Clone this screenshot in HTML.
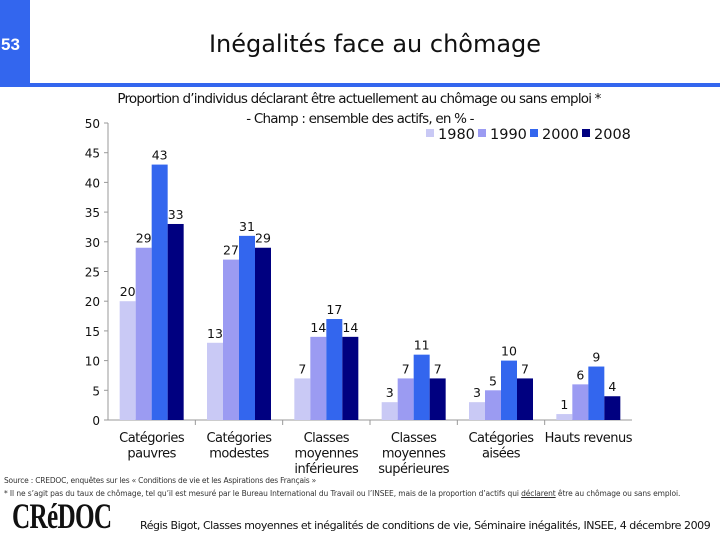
<!DOCTYPE html>
<html><head><meta charset="utf-8"><style>
body{margin:0;width:720px;height:540px;overflow:hidden;background:#fff;font-family:"DejaVu Sans","Liberation Sans",sans-serif;position:relative}
.a{position:absolute;white-space:nowrap}
</style></head><body>
<div class="a" style="left:0;top:0;width:30px;height:86px;background:#3366ee"></div>
<div class="a" style="left:0;top:83px;width:720px;height:4px;background:#3366ee"></div>
<div class="a" style="left:1px;top:35px;color:#fff;font:bold 17px 'Liberation Sans',sans-serif">53</div>
<div class="a" style="left:0;width:750px;text-align:center;top:30px;font-size:24px;color:#111">Inégalités face au chômage</div>
<div class="a" style="left:0;width:718px;text-align:center;top:91px;font-size:13.5px;letter-spacing:-0.8px;color:#111">Proportion d’individus déclarant être actuellement au chômage ou sans emploi *</div>
<div class="a" style="left:0;width:720px;text-align:center;top:111px;font-size:13.5px;letter-spacing:-0.8px;color:#111">- Champ : ensemble des actifs, en % -</div>
<svg class="a" style="left:0;top:0" width="720" height="540" id="chart"></svg>
<div class="a" style="left:4px;top:476px;font-size:7.5px;color:#333;letter-spacing:-0.2px">Source : CREDOC, enquêtes sur les « Conditions de vie et les Aspirations des Français »</div>
<div class="a" style="left:4px;top:489px;font-size:7.5px;color:#333;letter-spacing:-0.1px">* Il ne s’agit pas du taux de chômage, tel qu’il est mesuré par le Bureau International du Travail ou l’INSEE, mais de la proportion d’actifs qui <u>déclarent</u> être au chômage ou sans emploi.</div>
<div class="a" style="left:12px;top:495px;font:bold 36px 'Liberation Serif',serif;transform:scaleX(0.7);transform-origin:left;letter-spacing:-1px;color:#111">CRéDOC</div>
<div class="a" style="left:140px;top:519px;font-size:11px;color:#111;letter-spacing:-0.45px">Régis Bigot, Classes moyennes et inégalités de conditions de vie, Séminaire inégalités, INSEE, 4 décembre 2009</div>
<script>
const categories=[["Catégories","pauvres"],["Catégories","modestes"],["Classes","moyennes","inférieures"],["Classes","moyennes","supérieures"],["Catégories","aisées"],["Hauts revenus"]];
const years=["1980","1990","2000","2008"];
const v1980=[20,13,7,3,3,1];
const v1990=[29,27,14,7,5,6];
const v2000=[43,31,17,11,10,9];
const v2008=[33,29,14,7,7,4];
const yTicks=[0,5,10,15,20,25,30,35,40,45,50];
const series=[v1980,v1990,v2000,v2008];
const colors=["#c9c9f5","#9b9bf2","#3366ee","#000080"];
const svg=document.getElementById('chart');const NS="http://www.w3.org/2000/svg";
const x0=108,x1=632,y0=420,yTop=123;
const y=v=>y0-(v/50)*(y0-yTop);
const gw=(x1-x0)/categories.length,bw=16;
function mk(t,a,txt){const e=document.createElementNS(NS,t);for(const k in a)e.setAttribute(k,a[k]);if(txt!==undefined)e.textContent=txt;svg.appendChild(e);return e;}
let ax=mk('line',{x1:x0,y1:yTop,x2:x0,y2:y0,stroke:'#999'});

let bx=mk('line',{x1:x0,y1:y0,x2:x1,y2:y0,stroke:'#999'});

yTicks.forEach(t=>{
 let l=mk('line',{x1:x0-4,y1:y(t),x2:x0,y2:y(t),stroke:'#999'});
 
 let tx=mk('text',{x:x0-8,y:y(t)+5,'text-anchor':'end','font-size':12,'font-family':'DejaVu Sans,sans-serif',fill:'#111'},t);
 
});
categories.forEach((c,i)=>{
 const gx=x0+gw*i+(gw-4*bw)/2;
 if(i>0){let l=mk('line',{x1:x0+gw*i,y1:y0,x2:x0+gw*i,y2:y0+5,stroke:'#999'});}
 series.forEach((s,j)=>{
  const bx=gx+j*bw;
  let r=mk('rect',{x:bx,y:y(s[i]),width:bw,height:y0-y(s[i]),fill:colors[j]});
  
  let t=mk('text',{x:bx+bw/2,y:y(s[i])-5,'text-anchor':'middle','font-size':12.5,'font-family':'DejaVu Sans,sans-serif',fill:'#111'},s[i]);
  
 });
 c.forEach((ln,k)=>{
  let t=mk('text',{x:x0+gw*(i+0.5),y:442+k*15.5,'text-anchor':'middle','font-size':13,'letter-spacing':'-0.5','font-family':'DejaVu Sans,sans-serif',fill:'#111'},ln);
  
 });
});
years.forEach((yr,j)=>{
 const lx=426+j*52;
 let r=mk('rect',{x:lx,y:129,width:8,height:8,fill:colors[j]});
 
 let t=mk('text',{x:lx+12,y:139,'font-size':14.5,'font-family':'DejaVu Sans,sans-serif',fill:'#111'},yr);
 
});
</script>
</body></html>
